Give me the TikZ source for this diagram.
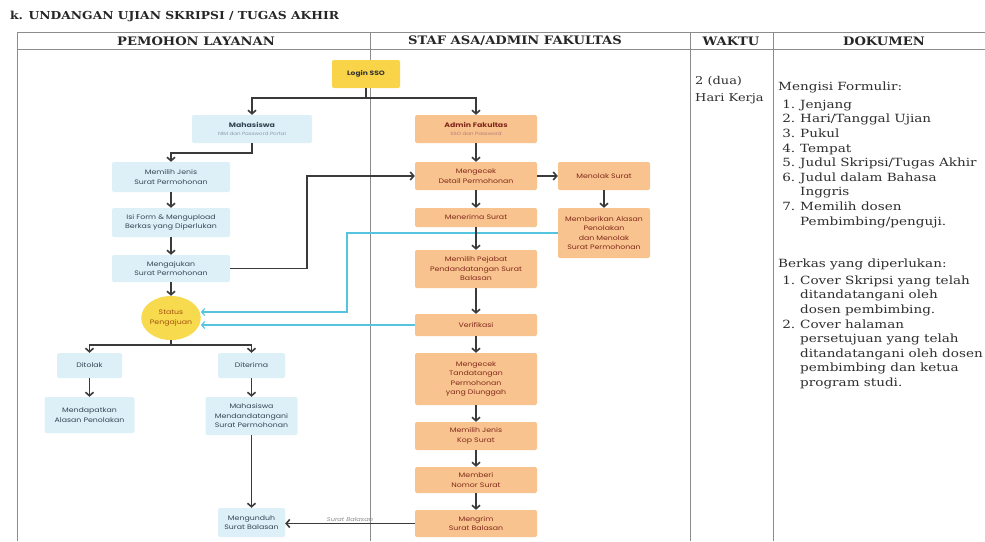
\documentclass[tikz,border=0pt]{standalone}
\usepackage{fontspec}
\setmainfont{DejaVu Serif}
\newfontfamily\docfont[FakeStretch=1.2]{DejaVu Serif}
\newfontfamily\hdrfont[FakeStretch=1.12]{DejaVu Serif}
\newfontfamily\flowfont[FakeStretch=1.2]{Poppins}
\usetikzlibrary{arrows.meta,shapes.geometric}
\definecolor{pfill}{HTML}{DDF0F8}
\definecolor{afill}{HTML}{F8C38E}
\definecolor{lfill}{HTML}{F9D448}
\definecolor{efill}{HTML}{F8DA4E}
\definecolor{ptext}{HTML}{354452}
\definecolor{atext}{HTML}{80281A}
\definecolor{etext}{HTML}{A0520E}
\definecolor{arrgray}{HTML}{3A3A3A}
\definecolor{cyanline}{HTML}{55C5DF}
\definecolor{tblline}{HTML}{8C8C8C}
\definecolor{subgray}{HTML}{8A9AA5}
\definecolor{doctext}{HTML}{2E2E2E}
\newcommand\dnum[1]{\makebox[17pt][r]{#1}\hspace{5pt}}
\newcommand\dcont{\hspace{22pt}}
\begin{document}
\begin{tikzpicture}[x=1pt,y=-1pt,
  sz/.style 2 args={minimum width=#1pt,minimum height=#2pt},
  fbase/.style={rounded corners=2pt,inner sep=1pt,align=center,font=\flowfont\fontsize{6.5}{9.5}\selectfont},
  pbox/.style={fbase,fill=pfill,text=ptext},
  abox/.style={fbase,fill=afill,text=atext},
  loginbox/.style={fbase,fill=lfill,text=black!80,font=\flowfont\bfseries\fontsize{6.3}{9.5}\selectfont},
  statusell/.style={ellipse,fill=efill,text=etext,inner sep=0pt,align=center,font=\flowfont\fontsize{6.5}{9.5}\selectfont},
  conn/.style={draw=arrgray,line width=1.6pt},
  arr/.style={conn,-{Straight Barb[length=3.5pt,width=8pt]}},
  cyarr/.style={draw=cyanline,line width=1.2pt,-{Straight Barb[length=3pt,width=7pt]}},
  lbl/.style={font=\flowfont\itshape\fontsize{5.5}{7}\selectfont,text=black!45,inner sep=1.5pt},
  tbl/.style={draw=tblline,line width=0.9pt},
  hdr/.style={font=\hdrfont\bfseries\fontsize{11.7}{13}\selectfont,text=black!85,inner sep=0pt},
  doc/.style={font=\docfont\fontsize{11.3}{14.6}\selectfont,text=doctext,inner sep=0pt,align=left}
]
\fill[white] (0,0) rectangle (985,541);
\useasboundingbox (0,0) rectangle (985,541);

% title and table
\node[anchor=west,font=\hdrfont\bfseries\fontsize{11}{13}\selectfont,text=black!85,inner sep=0pt] (title) at (10,16) {k. UNDANGAN UJIAN SKRIPSI / TUGAS AKHIR};
\draw[tbl] (17,32) -- (985,32);
\draw[tbl] (17,49) -- (985,49);
\draw[tbl] (17,32) -- (17,541);
\draw[tbl] (370,32) -- (370,541);
\draw[tbl] (690,32) -- (690,541);
\draw[tbl] (773,32) -- (773,541);
\node[hdr] (h1) at (196,41) {PEMOHON LAYANAN};
\node[hdr] (h2) at (515,41) {STAF ASA/ADMIN FAKULTAS};
\node[hdr] (h3) at (731,41) {WAKTU};
\node[hdr] (h4) at (884,41) {DOKUMEN};

% right columns
\node[doc,anchor=north west,font=\docfont\fontsize{10.8}{14.6}\selectfont] (waktu) at (695,76) {2 (dua)\\[2pt]Hari Kerja};
\node[doc,anchor=north west] (form) at (778,82) {Mengisi Formulir:\\[3pt]
\dnum{1.}Jenjang\\
\dnum{2.}Hari/Tanggal Ujian\\
\dnum{3.}Pukul\\
\dnum{4.}Tempat\\
\dnum{5.}Judul Skripsi/Tugas Akhir\\
\dnum{6.}Judul dalam Bahasa\\
\dcont Inggris\\
\dnum{7.}Memilih dosen\\
\dcont Pembimbing/penguji.};
\node[doc,anchor=north west] (berkas) at (778,259) {Berkas yang diperlukan:\\[2pt]
\dnum{1.}Cover Skripsi yang telah\\
\dcont ditandatangani oleh\\
\dcont dosen pembimbing.\\
\dnum{2.}Cover halaman\\
\dcont persetujuan yang telah\\
\dcont ditandatangani oleh dosen\\
\dcont pembimbing dan ketua\\
\dcont program studi.};

% flow nodes - pemohon
\node[loginbox,sz={68}{28}] (login) at (366,74) {Login SSO};
\node[pbox,sz={120}{28}] (mhs) at (252,129) {\textbf{Mahasiswa}\\[-2pt]{\fontsize{4.6}{5.5}\selectfont\color{subgray}NIM dan Password Portal}};
\node[pbox,sz={118}{30}] (mj) at (171,177) {Memilih Jenis\\Surat Permohonan};
\node[pbox,sz={118}{29}] (isi) at (171,222.5) {Isi Form \& Mengupload\\Berkas yang Diperlukan};
\node[pbox,sz={118}{27}] (aj) at (171,268.5) {Mengajukan\\Surat Permohonan};
\node[statusell,sz={58}{44}] (status) at (171,318) {Status\\Pengajuan};
\node[pbox,sz={65}{25}] (ditolak) at (89.5,365.5) {Ditolak};
\node[pbox,sz={67}{25}] (diterima) at (251.5,365.5) {Diterima};
\node[pbox,sz={90}{36}] (dapat) at (89.5,415) {Mendapatkan\\Alasan Penolakan};
\node[pbox,sz={92}{38}] (ttd) at (251.5,416) {Mahasiswa\\Mendandatangani\\Surat Permohonan};
\node[pbox,sz={67}{29}] (unduh) at (251.5,522.5) {Mengunduh\\Surat Balasan};

% flow nodes - staf
\node[abox,sz={122}{28}] (adm) at (476,129) {\textbf{Admin Fakultas}\\[-2pt]{\fontsize{4.6}{5.5}\selectfont\color{atext!60}SSO dan Password}};
\node[abox,sz={122}{28}] (cek) at (476,176) {Mengecek\\Detail Permohonan};
\node[abox,sz={122}{19}] (terima) at (476,217.5) {Menerima Surat};
\node[abox,sz={122}{38}] (pejabat) at (476,269) {Memilih Pejabat\\Pendandatangan Surat\\Balasan};
\node[abox,sz={122}{22}] (verif) at (476,325) {Verifikasi};
\node[abox,sz={122}{52}] (ttdcek) at (476,379) {Mengecek\\Tandatangan\\Permohonan\\yang Diunggah};
\node[abox,sz={122}{28}] (kop) at (476,436) {Memilih Jenis\\Kop Surat};
\node[abox,sz={122}{26}] (nomor) at (476,480) {Memberi\\Nomor Surat};
\node[abox,sz={122}{27}] (kirim) at (476,523.5) {Mengrim\\Surat Balasan};
\node[abox,sz={92}{28}] (tolak) at (604,176) {Menolak Surat};
\node[abox,sz={92}{50}] (alasan) at (604,233) {Memberikan Alasan\\Penolakan\\dan Menolak\\Surat Permohonan};

% connectors
\coordinate (j1) at (366,98);
\coordinate (bend1) at (307,268.5);
\coordinate (j2) at (171,345);
\coordinate (cy1) at (347,233);
\coordinate (cy2) at (347,312);

\draw[cyarr] (alasan.west) -- (cy1) -- (cy2) -- (cy2 -| status.east);
\draw[cyarr] (verif.west) -- (verif.west -| status.east);

\draw[conn] (login.south) -- (j1);
\draw[arr] (j1) -| (mhs.north);
\draw[arr] (j1) -| (adm.north);
\draw[arr] (mhs.south) -- ++(0,10) -| (mj.north);
\draw[arr] (mj) -- (isi);
\draw[arr] (isi) -- (aj);
\draw[arr] (aj.east) -- (bend1) |- (cek.west);
\draw[arr] (aj) -- (status);
\draw[conn] (status.south) -- (j2);
\draw[arr] (j2) -| (ditolak.north);
\draw[arr] (j2) -| (diterima.north);
\draw[arr] (ditolak) -- (dapat);
\draw[arr] (diterima) -- (ttd);
\draw[arr] (ttd) -- (unduh);
\draw[arr] (kirim.west) -- node[lbl,above] {Surat Balasan} (kirim.west -| unduh.east);

\draw[arr] (adm) -- (cek);
\draw[arr] (cek) -- (terima);
\draw[arr] (cek) -- (tolak);
\draw[arr] (tolak) -- (alasan);
\draw[arr] (terima) -- (pejabat);
\draw[arr] (pejabat) -- (verif);
\draw[arr] (verif) -- (ttdcek);
\draw[arr] (ttdcek) -- (kop);
\draw[arr] (kop) -- (nomor);
\draw[arr] (nomor) -- (kirim);
\end{tikzpicture}
\end{document}
